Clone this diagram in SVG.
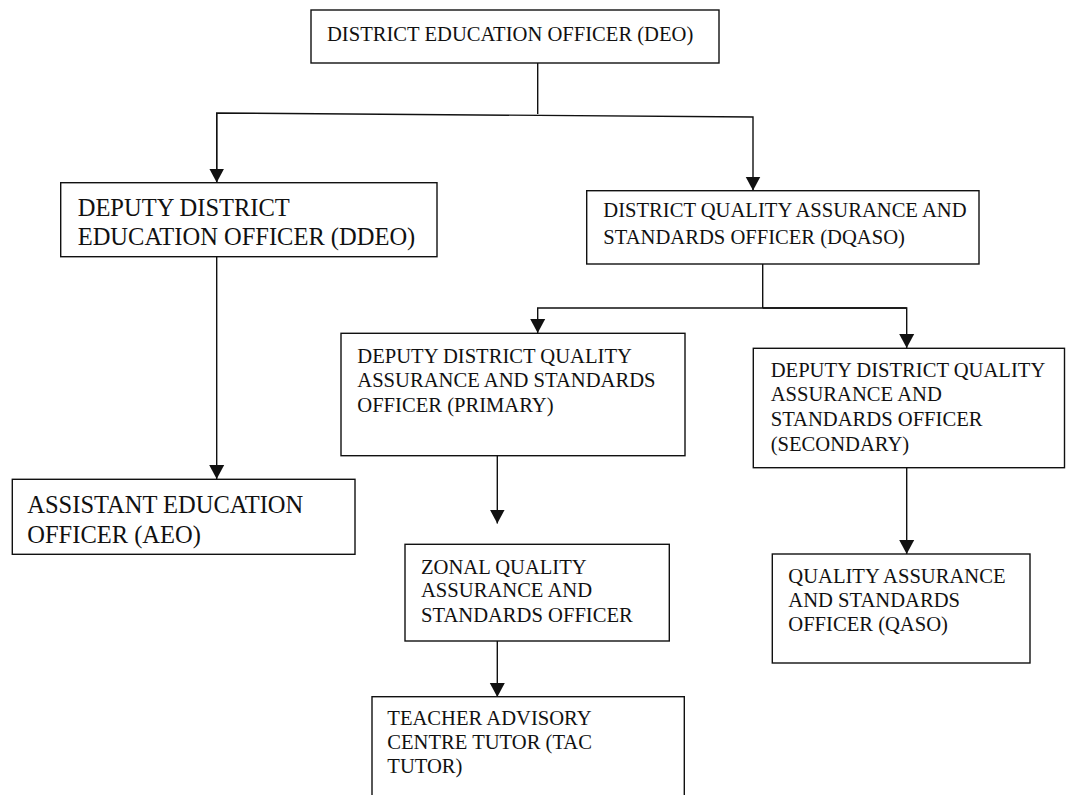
<svg xmlns="http://www.w3.org/2000/svg" width="1066" height="795" viewBox="0 0 1066 795">
<style>
.box{fill:#fff;stroke:#111;stroke-width:1.4}
.t{font-family:"Liberation Serif","Times New Roman",serif;font-size:20.6px;fill:#111}
.tl{font-family:"Liberation Serif","Times New Roman",serif;font-size:24.5px;fill:#111}
.c{fill:none;stroke:#111;stroke-width:1.4}
</style>
<defs>
<marker id="ah" markerUnits="userSpaceOnUse" markerWidth="16" markerHeight="16" refX="14" refY="8" orient="auto" viewBox="0 0 16 16">
<path d="M0,0.5 L14,8 L0,15.5 z" fill="#111"/>
</marker>
</defs>
<rect width="1066" height="795" fill="#fff"/>
<g id="connectors">
<path class="c" d="M537.7,63 V114"/>
<path class="c" d="M216.7,182.5 V113 L753,117 V190.5" marker-end="url(#ah)"/>
<path class="c" d="M216.7,113 V182.5" marker-end="url(#ah)"/>
<path class="c" d="M762.7,264 V308"/>
<path class="c" d="M906.7,308 H537.7 V333" marker-end="url(#ah)"/>
<path class="c" d="M762.7,308 H906.7 V348" marker-end="url(#ah)"/>
<path class="c" d="M216.7,256.7 V479" marker-end="url(#ah)"/>
<path class="c" d="M497.3,455.7 V523.5" marker-end="url(#ah)"/>
<path class="c" d="M497.3,637 V697" marker-end="url(#ah)"/>
<path class="c" d="M906.7,467.7 V554" marker-end="url(#ah)"/>
</g>
<g id="deo">
<rect class="box" x="311" y="10" width="408" height="53"/>
<text class="t" x="327" y="41">DISTRICT EDUCATION OFFICER (DEO)</text>
</g>
<g id="ddeo">
<rect class="box" x="60.7" y="182.7" width="376.3" height="74"/>
<text class="tl" x="77.7" y="215.7">DEPUTY DISTRICT</text>
<text class="tl" x="77.7" y="245">EDUCATION OFFICER (DDEO)</text>
</g>
<g id="dqaso">
<rect class="box" x="586.7" y="190.7" width="392.3" height="73.3"/>
<text class="t" x="603.3" y="217.3">DISTRICT QUALITY ASSURANCE AND</text>
<text class="t" x="603.3" y="244">STANDARDS OFFICER (DQASO)</text>
</g>
<g id="ddqaso-primary">
<rect class="box" x="341" y="333.3" width="344" height="122.4"/>
<text class="t" x="357.3" y="362.7">DEPUTY DISTRICT QUALITY</text>
<text class="t" x="357.3" y="386.7">ASSURANCE AND STANDARDS</text>
<text class="t" x="357.3" y="411.7">OFFICER (PRIMARY)</text>
</g>
<g id="ddqaso-secondary">
<rect class="box" x="753.3" y="348.3" width="311.2" height="119.4"/>
<text class="t" x="770.7" y="376.7">DEPUTY DISTRICT QUALITY</text>
<text class="t" x="770.7" y="401">ASSURANCE AND</text>
<text class="t" x="770.7" y="426">STANDARDS OFFICER</text>
<text class="t" x="770.7" y="451">(SECONDARY)</text>
</g>
<g id="aeo">
<rect class="box" x="12.3" y="479.3" width="342.7" height="75"/>
<text class="tl" x="27.3" y="512.7">ASSISTANT EDUCATION</text>
<text class="tl" x="27.3" y="543.3">OFFICER (AEO)</text>
</g>
<g id="zqaso">
<rect class="box" x="405" y="544.3" width="264.3" height="96.7"/>
<text class="t" x="421" y="574">ZONAL QUALITY</text>
<text class="t" x="421" y="597.3">ASSURANCE AND</text>
<text class="t" x="421" y="621.7">STANDARDS OFFICER</text>
</g>
<g id="qaso">
<rect class="box" x="772.3" y="554" width="257.7" height="109"/>
<text class="t" x="788.3" y="582.7">QUALITY ASSURANCE</text>
<text class="t" x="788.3" y="606.7">AND STANDARDS</text>
<text class="t" x="788.3" y="630.7">OFFICER (QASO)</text>
</g>
<g id="tac">
<rect class="box" x="372" y="696.7" width="312.3" height="110"/>
<text class="t" x="387.3" y="725">TEACHER ADVISORY</text>
<text class="t" x="387.3" y="749.3">CENTRE TUTOR (TAC</text>
<text class="t" x="387.3" y="773.3">TUTOR)</text>
</g>
</svg>
